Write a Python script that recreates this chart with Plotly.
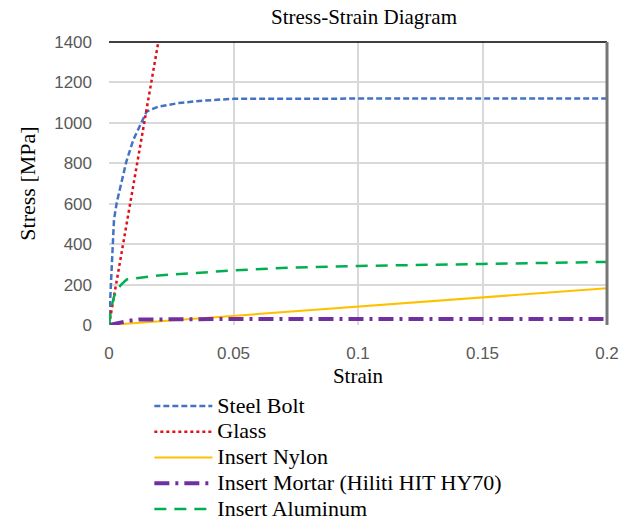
import plotly.graph_objects as go

# Data
steel_x = [0, 0.001, 0.002, 0.0031, 0.0047, 0.007, 0.0098, 0.0125, 0.0151, 0.0197, 0.028, 0.0378, 0.05, 0.1, 0.15, 0.2]
steel_y = [0, 300, 520, 605, 695, 810, 917, 990, 1056, 1080, 1098, 1110, 1119, 1120, 1120, 1120]

glass_x = [0, 0.02]
glass_y = [0, 1414]

nylon_x = [0, 0.05, 0.1, 0.15, 0.2]
nylon_y = [0, 45, 91, 137, 182]

mortar_x = [0, 0.004, 0.008, 0.012, 0.03, 0.05, 0.1, 0.15, 0.2]
mortar_y = [0, 12, 21, 27, 30, 30, 30, 30, 30]

alu_x = [0, 0.001, 0.002, 0.0035, 0.0051, 0.0071, 0.02, 0.05, 0.0727, 0.1, 0.15, 0.2]
alu_y = [0, 90, 140, 180, 202, 225, 245, 270, 284, 292, 302, 312]

names = ["Steel Bolt", "Glass", "Insert Nylon", "Insert Mortar (Hiliti HIT HY70)", "Insert Aluminum"]

serif = "Liberation Serif"
tickfont = dict(family="Liberation Sans", size=17, color="#595959")


def lname(s):
    return '<span style="font-size:22px">' + s + '</span>'


fig = go.Figure()
fig.add_trace(go.Scatter(x=steel_x, y=steel_y, mode="lines", name=lname(names[0]),
                         line=dict(color="#4472C4", width=2.5, dash="6px,3px")))
fig.add_trace(go.Scatter(x=glass_x, y=glass_y, mode="lines", name=lname(names[1]),
                         line=dict(color="#E0101A", width=2.5, dash="dot")))
fig.add_trace(go.Scatter(x=nylon_x, y=nylon_y, mode="lines", name=lname(names[2]),
                         line=dict(color="#FFC000", width=2)))
fig.add_trace(go.Scatter(x=mortar_x, y=mortar_y, mode="lines", name=lname(names[3]),
                         line=dict(color="#7030A0", width=4, dash="15px,6px,3px,6px")))
fig.add_trace(go.Scatter(x=alu_x, y=alu_y, mode="lines", name=lname(names[4]),
                         line=dict(color="#00B050", width=2.5, dash="12px,8px")))

fig.update_layout(
    width=630, height=523,
    margin=dict(l=109, r=23, t=42, b=198, autoexpand=False),
    paper_bgcolor="white", plot_bgcolor="white",
    title=dict(text="Stress-Strain Diagram", x=364/630, xanchor="center", y=1-17/523, yanchor="middle",
               font=dict(family=serif, size=21, color="black")),
    xaxis=dict(range=[0, 0.2], dtick=0.05, tick0=0, showgrid=True, gridcolor="#D9D9D9", gridwidth=2,
               zeroline=False, showline=False, tickfont=tickfont, ticks="", ticklabelstandoff=16,
               title=dict(text="Strain", font=dict(family=serif, size=21, color="black"), standoff=13)),
    yaxis=dict(range=[0, 1400], dtick=200, showgrid=True, gridcolor="#D9D9D9", gridwidth=2,
               zeroline=False, showline=False, tickfont=tickfont, ticks="", ticklabelstandoff=16,
               title=dict(text="Stress [MPa]", font=dict(family=serif, size=22, color="black"), standoff=12)),
    legend=dict(x=0.081, y=1 - 388/523, yref="container", xanchor="left", yanchor="top", orientation="v",
                font=dict(family=serif, size=17.5, color="black"), itemwidth=58,
                tracegroupgap=0, bgcolor="rgba(0,0,0,0)"),
    showlegend=True,
    shapes=[
        dict(type="line", xref="paper", yref="paper", x0=0, x1=1, y0=1, y1=1,
             line=dict(color="black", width=1.5)),
        dict(type="line", xref="paper", yref="paper", x0=1, x1=1, y0=0, y1=1,
             line=dict(color="#767676", width=3)),
    ],
)

fig.write_html("out.html")
